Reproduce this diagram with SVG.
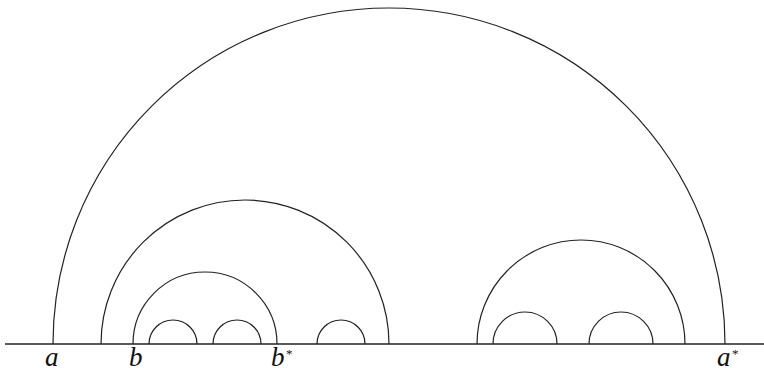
<svg xmlns="http://www.w3.org/2000/svg" width="764" height="368" viewBox="0 0 764 368">
<style>
.arc{fill:none;stroke:#222;stroke-width:1.2}
.base{stroke:#222;stroke-width:1.4}
.lbl{font-family:"Liberation Serif","DejaVu Serif",serif;font-style:italic;font-size:27px;fill:#111}
.sup{font-family:"Liberation Serif","DejaVu Serif",serif;font-size:13px;fill:#111}
</style>
<rect width="764" height="368" fill="#fff"/>
<g id="connectors">
<line class="base" x1="5" y1="344" x2="764" y2="344"/>
</g>
<g id="arc-a"><path class="arc" d="M53,344 A336,336 0 0 1 725,344"/></g>
<g id="arc-L1"><path class="arc" d="M101,344 A144,144 0 0 1 389,344"/></g>
<g id="arc-b"><path class="arc" d="M133,344 A72,72 0 0 1 277,344"/></g>
<g id="arc-s1"><path class="arc" d="M149,344 A24,24 0 0 1 197,344"/></g>
<g id="arc-s2"><path class="arc" d="M213,344 A24,24 0 0 1 261,344"/></g>
<g id="arc-s3"><path class="arc" d="M317,344 A24,24 0 0 1 365,344"/></g>
<g id="arc-R1"><path class="arc" d="M477,344 A104,104 0 0 1 685,344"/></g>
<g id="arc-s4"><path class="arc" d="M493,344 A32,32 0 0 1 557,344"/></g>
<g id="arc-s5"><path class="arc" d="M589,344 A32,32 0 0 1 653,344"/></g>
<g id="labels">
<text class="lbl" x="45" y="366">a</text>
<text class="lbl" x="129" y="366">b</text>
<text class="lbl" x="271" y="366">b</text>
<text class="sup" x="286" y="358">*</text>
<text class="lbl" x="717" y="366">a</text>
<text class="sup" x="732" y="358">*</text>
</g>
</svg>
